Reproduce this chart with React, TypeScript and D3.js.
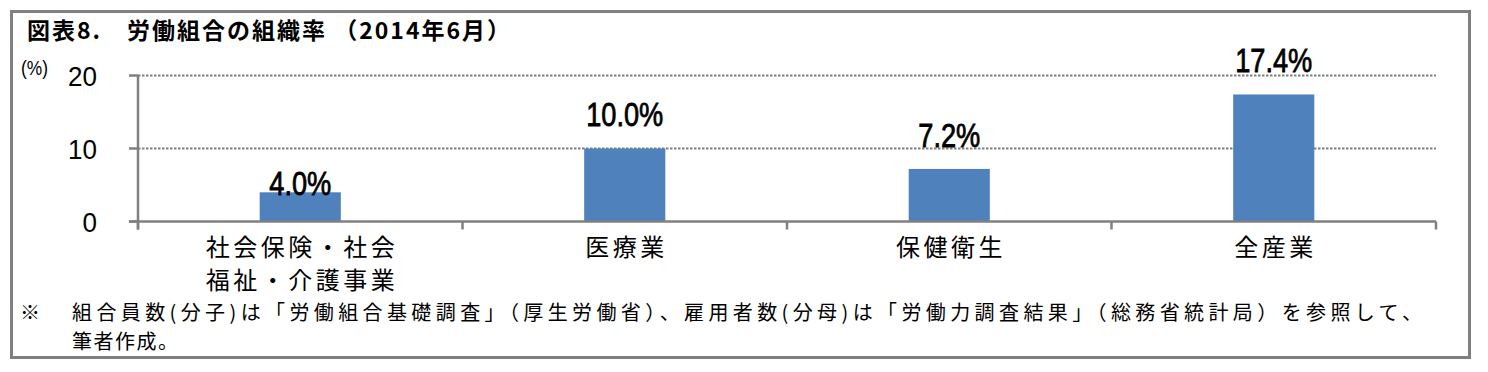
import React from "react";
import * as d3 from "d3";

const categories: string[][] = [
  ["社会保険・社会", "福祉・介護事業"],
  ["医療業"],
  ["保健衛生"],
  ["全産業"],
];
const values: number[] = [4.0, 10.0, 7.2, 17.4];
const yTicks: number[] = [0, 10, 20];
const title = "図表8.\u3000労働組合の組織率 （2014年6月）";
const unitLabel = "(%)";
const noteMark = "※";
const noteLines: string[] = [
  "組合員数(分子)は「労働組合基礎調査」（厚生労働省）、雇用者数(分母)は「労働力調査結果」（総務省統計局）を参照して、",
  "筆者作成。",
];

const W = 1488;
const H = 372;
const plot = { left: 138, right: 1436, top: 75.5, bottom: 221.5 };
const BAR = "#4f81bd";
const GRAY = "#808080";
const CJK = "'Noto Sans CJK JP', 'Noto Sans', sans-serif";
const LAT = "'Liberation Sans', Arial, sans-serif";
// manual label placement (first label sits on the bar, as in the source)
const labelNudge = [25, 0, 0, 0];

export default function App() {
  const x = d3
    .scaleBand<number>()
    .domain(d3.range(categories.length))
    .range([plot.left, plot.right])
    .paddingInner(0.75)
    .paddingOuter(0.375);
  const y = d3.scaleLinear().domain([0, 20]).range([plot.bottom, plot.top]);
  const step = (plot.right - plot.left) / categories.length;
  const fmt = d3.format(".1f");

  return (
    <svg
      width={W}
      height={H}
      style={{ position: "absolute", left: 0, top: 0, display: "block", background: "#fff" }}
    >
      <rect x={11.5} y={11.5} width={1458} height={346} fill="#fff" stroke={GRAY} strokeWidth={3} />
      <text
        x={27}
        y={39}
        fontFamily={CJK}
        fontWeight="bold"
        fontSize={23}
        textLength={483}
        lengthAdjust="spacing"
        fill="#000"
      >
        {title}
      </text>
      <text x={21} y={75} fontFamily={LAT} fontSize={21} fill="#000" textLength={27} lengthAdjust="spacingAndGlyphs">
        {unitLabel}
      </text>

      {/* gridlines */}
      {yTicks
        .filter((t) => t > 0)
        .map((t) => (
          <line
            key={"g" + t}
            x1={plot.left}
            x2={plot.right}
            y1={y(t)}
            y2={y(t)}
            stroke={GRAY}
            strokeWidth={2}
            strokeDasharray="2.5,1.5"
          />
        ))}

      {/* bars */}
      {values.map((v, i) => (
        <rect key={"b" + i} x={x(i)} y={y(v)} width={x.bandwidth()} height={y(0) - y(v)} fill={BAR} />
      ))}

      {/* axes */}
      <line x1={plot.left} x2={plot.left} y1={plot.top} y2={plot.bottom + 8} stroke={GRAY} strokeWidth={2.5} />
      {yTicks.map((t) => (
        <line key={"yt" + t} x1={plot.left - 9} x2={plot.left} y1={y(t)} y2={y(t)} stroke={GRAY} strokeWidth={2.5} />
      ))}
      <line x1={plot.left - 9} x2={plot.right} y1={y(0)} y2={y(0)} stroke={GRAY} strokeWidth={2.5} />
      {d3.range(categories.length + 1).map((i) => (
        <line
          key={"xt" + i}
          x1={plot.left + i * step}
          x2={plot.left + i * step}
          y1={y(0)}
          y2={y(0) + 8}
          stroke={GRAY}
          strokeWidth={2.5}
        />
      ))}

      {/* y tick labels */}
      {yTicks.map((t) => (
        <text
          key={"yl" + t}
          x={97}
          y={y(t) + 11}
          textAnchor="end"
          fontFamily={LAT}
          fontSize={28}
          fill="#000"
          transform={`translate(97,0) scale(0.93,1) translate(-97,0)`}
        >
          {t}
        </text>
      ))}

      {/* value labels */}
      {values.map((v, i) => {
        const cx = (x(i) as number) + x.bandwidth() / 2;
        return (
          <text
            key={"v" + i}
            x={cx}
            y={y(v) - 22 + labelNudge[i]}
            textAnchor="middle"
            fontFamily={LAT}
            fontSize={34}
            fill="#000"
            stroke="#000"
            strokeWidth={0.8}
            transform={`translate(${cx},0) scale(0.8,1) translate(${-cx},0)`}
          >
            {fmt(v) + "%"}
          </text>
        );
      })}

      {/* category labels */}
      {categories.map((lines, i) => {
        const cx = (x(i) as number) + x.bandwidth() / 2;
        return lines.map((ln, j) => {
          const n = ln.length;
          return (
            <text
              key={"c" + i + "-" + j}
              x={cx}
              y={256 + j * 33}
              textAnchor="middle"
              fontFamily={CJK}
              fontSize={24}
              textLength={n * 24 + (n - 1) * 3.5}
              lengthAdjust="spacing"
              fill="#000"
            >
              {ln}
            </text>
          );
        });
      })}

      {/* footnote */}
      <text x={20} y={320} fontFamily={CJK} fontSize={20} fill="#000">
        {noteMark}
      </text>
      <text
        x={72}
        y={320}
        fontFamily={CJK}
        fontSize={20}
        textLength={1350}
        lengthAdjust="spacing"
        fill="#000"
      >
        {noteLines[0]}
      </text>
      <text x={72} y={349} fontFamily={CJK} fontSize={20} textLength={106} lengthAdjust="spacing" fill="#000">
        {noteLines[1]}
      </text>
    </svg>
  );
}
